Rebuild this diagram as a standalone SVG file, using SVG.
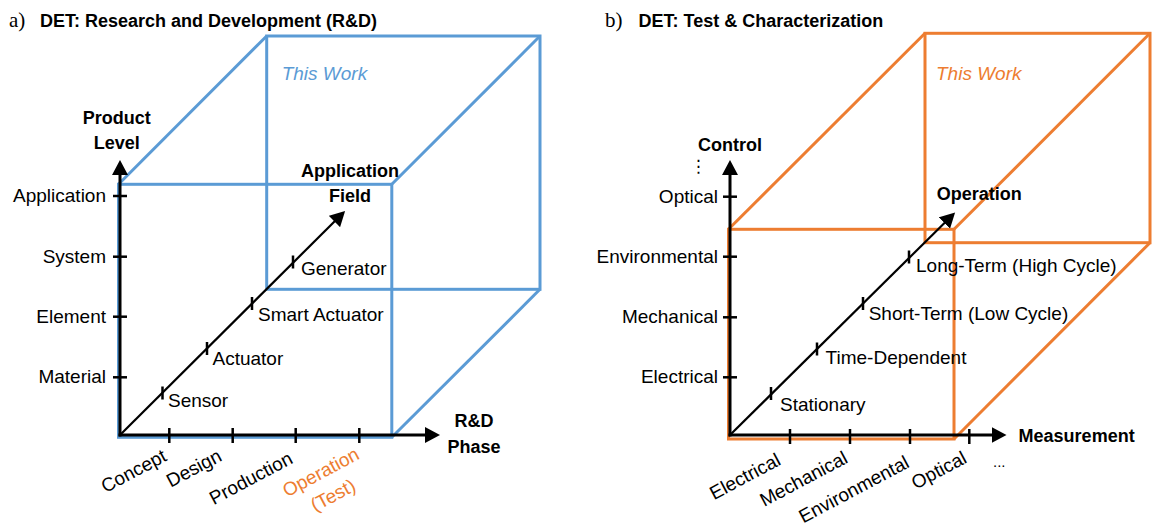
<svg xmlns="http://www.w3.org/2000/svg" width="1153" height="528" viewBox="0 0 1153 528">
<style>
  .lbl { font-family: "Liberation Sans", Arial, sans-serif; font-size: 19px; fill: #000; }
  .bold { font-family: "Liberation Sans", Arial, sans-serif; font-size: 18px; font-weight: bold; fill: #000; }
  .pl { font-family: "Liberation Serif", "Times New Roman", serif; font-size: 21px; fill: #000; }
  .blue { fill: none; stroke: #5B9BD5; stroke-width: 3; stroke-linejoin: miter; }
  .orange { fill: none; stroke: #ED7D31; stroke-width: 3; stroke-linejoin: miter; }
  .axis { stroke: #000; stroke-width: 3; fill: none; }
  .diag { stroke: #000; stroke-width: 2.2; fill: none; }
  .tick { stroke: #000; stroke-width: 2.5; }
  .work { font-family: "Liberation Sans", Arial, sans-serif; font-size: 19px; font-style: italic; }
</style>
<defs>
  <marker id="ah" markerUnits="userSpaceOnUse" markerWidth="16" markerHeight="16" refX="5" refY="8" orient="auto">
    <path d="M0,0 L15,8 L0,16 z" fill="#000"/>
  </marker>
</defs>

<!-- Panel titles -->
<g id="title-a">
  <text class="pl" x="9" y="27">a)</text>
  <text class="bold" x="40" y="27">DET: Research and Development (R&amp;D)</text>
</g>
<g id="title-b">
  <text class="pl" x="605" y="27">b)</text>
  <text class="bold" x="638.5" y="27">DET: Test &amp; Characterization</text>
</g>

<!-- Left cube (blue) -->
<g id="cube-a">
  <rect class="blue" x="266.7" y="36" width="273.3" height="253.3"/>
  <rect class="blue" x="118.5" y="184.3" width="273.3" height="253"/>
  <line class="blue" x1="118.5" y1="184.3" x2="266.7" y2="36"/>
  <line class="blue" x1="391.8" y1="184.3" x2="540" y2="36"/>
  <line class="blue" x1="391.8" y1="437.3" x2="540" y2="289.3"/>
  <text class="work" x="281.7" y="80" fill="#5B9BD5">This Work</text>
</g>

<!-- Right cube (orange) -->
<g id="cube-b">
  <rect class="orange" x="925" y="33.3" width="225" height="209.4"/>
  <rect class="orange" x="728.5" y="229.3" width="225.5" height="209.7"/>
  <line class="orange" x1="728.5" y1="229.3" x2="925" y2="33.3"/>
  <line class="orange" x1="954" y1="229.3" x2="1150" y2="33.3"/>
  <line class="orange" x1="954" y1="439" x2="1150" y2="242.7"/>
  <text class="work" x="936" y="80" fill="#ED7D31">This Work</text>
</g>

<!-- Connectors: axes and arrows -->
<g id="connectors">
  <line class="axis" x1="120" y1="436.5" x2="120" y2="170" marker-end="url(#ah)"/>
  <line class="axis" x1="118.5" y1="435" x2="430" y2="435" marker-end="url(#ah)"/>
  <line class="diag" x1="120" y1="435" x2="338" y2="218" marker-end="url(#ah)"/>
  <line class="axis" x1="730" y1="436.5" x2="730" y2="170" marker-end="url(#ah)"/>
  <line class="axis" x1="728.5" y1="435" x2="996.5" y2="435" marker-end="url(#ah)"/>
  <line class="diag" x1="730" y1="435" x2="948" y2="219.5" marker-end="url(#ah)"/>
</g>

<!-- Left panel: Product Level axis -->
<g id="axis-a-y">
  <text class="bold" x="116.7" y="124" text-anchor="middle">Product</text>
  <text class="bold" x="116.7" y="149.3" text-anchor="middle">Level</text>
  <line class="tick" x1="113" y1="196" x2="127" y2="196"/>
  <line class="tick" x1="113" y1="256.7" x2="127" y2="256.7"/>
  <line class="tick" x1="113" y1="316.7" x2="127" y2="316.7"/>
  <line class="tick" x1="113" y1="377.3" x2="127" y2="377.3"/>
  <text class="lbl" x="106" y="201.7" text-anchor="end">Application</text>
  <text class="lbl" x="106" y="262.5" text-anchor="end">System</text>
  <text class="lbl" x="106" y="322.7" text-anchor="end">Element</text>
  <text class="lbl" x="106" y="383.3" text-anchor="end">Material</text>
</g>

<!-- Left panel: Application Field axis -->
<g id="axis-a-z">
  <text class="bold" x="350" y="176.7" text-anchor="middle">Application</text>
  <text class="bold" x="350" y="201.7" text-anchor="middle">Field</text>
  <line class="tick" x1="162.5" y1="386.5" x2="162.5" y2="399.5"/>
  <line class="tick" x1="207" y1="342" x2="207" y2="355"/>
  <line class="tick" x1="252" y1="297" x2="252" y2="310"/>
  <line class="tick" x1="293" y1="255.5" x2="293" y2="268.5"/>
  <text class="lbl" x="168" y="406.7">Sensor</text>
  <text class="lbl" x="212.5" y="365">Actuator</text>
  <text class="lbl" x="258" y="321">Smart Actuator</text>
  <text class="lbl" x="301" y="275">Generator</text>
</g>

<!-- Left panel: R&D Phase axis -->
<g id="axis-a-x">
  <text class="bold" x="474" y="426.7" text-anchor="middle">R&amp;D</text>
  <text class="bold" x="474" y="452.7" text-anchor="middle">Phase</text>
  <line class="tick" x1="169.3" y1="428" x2="169.3" y2="443"/>
  <line class="tick" x1="232.7" y1="428" x2="232.7" y2="443"/>
  <line class="tick" x1="295.7" y1="428" x2="295.7" y2="443"/>
  <line class="tick" x1="359.3" y1="428" x2="359.3" y2="443"/>
  <text class="lbl" text-anchor="end" transform="translate(168,460) rotate(-28)">Concept</text>
  <text class="lbl" text-anchor="end" transform="translate(223,460) rotate(-28)">Design</text>
  <text class="lbl" text-anchor="end" transform="translate(294,462.5) rotate(-28)">Production</text>
  <g transform="translate(323.8,478) rotate(-28)">
    <text class="lbl" text-anchor="middle" x="0" y="0" style="fill:#ED7D31">Operation</text>
    <text class="lbl" text-anchor="middle" x="0" y="26" style="fill:#ED7D31">(Test)</text>
  </g>
</g>

<!-- Right panel: Control axis -->
<g id="axis-b-y">
  <text class="bold" x="730" y="151" text-anchor="middle">Control</text>
  <text x="698.3" y="172" text-anchor="middle" style="font-family:'DejaVu Sans',sans-serif;font-size:17px">⋮</text>
  <line class="tick" x1="723" y1="196.7" x2="737" y2="196.7"/>
  <line class="tick" x1="723" y1="256.7" x2="737" y2="256.7"/>
  <line class="tick" x1="723" y1="317.3" x2="737" y2="317.3"/>
  <line class="tick" x1="723" y1="377.3" x2="737" y2="377.3"/>
  <text class="lbl" x="718" y="202.5" text-anchor="end">Optical</text>
  <text class="lbl" x="718" y="262.5" text-anchor="end">Environmental</text>
  <text class="lbl" x="718" y="323" text-anchor="end">Mechanical</text>
  <text class="lbl" x="718" y="383" text-anchor="end">Electrical</text>
</g>

<!-- Right panel: Operation axis -->
<g id="axis-b-z">
  <text class="bold" x="936.7" y="200">Operation</text>
  <line class="tick" x1="771" y1="387" x2="771" y2="400"/>
  <line class="tick" x1="817" y1="342.5" x2="817" y2="355.5"/>
  <line class="tick" x1="863" y1="297" x2="863" y2="310"/>
  <line class="tick" x1="909" y1="250.5" x2="909" y2="263.5"/>
  <text class="lbl" x="780" y="410.7">Stationary</text>
  <text class="lbl" x="825.6" y="364">Time-Dependent</text>
  <text class="lbl" x="868.7" y="320">Short-Term (Low Cycle)</text>
  <text class="lbl" x="916" y="271.7">Long-Term (High Cycle)</text>
</g>

<!-- Right panel: Measurement axis -->
<g id="axis-b-x">
  <text class="bold" x="1018.6" y="441.7">Measurement</text>
  <line class="tick" x1="790" y1="429" x2="790" y2="444"/>
  <line class="tick" x1="850" y1="429" x2="850" y2="444"/>
  <line class="tick" x1="910" y1="429" x2="910" y2="444"/>
  <line class="tick" x1="969.3" y1="429" x2="969.3" y2="444"/>
  <text class="lbl" text-anchor="end" transform="translate(782,464) rotate(-28)">Electrical</text>
  <text class="lbl" text-anchor="end" transform="translate(849,462) rotate(-28)">Mechanical</text>
  <text class="lbl" text-anchor="end" transform="translate(910.5,466.5) rotate(-28)">Environmental</text>
  <text class="lbl" text-anchor="end" transform="translate(968,462) rotate(-28)">Optical</text>
  <text class="lbl" x="993" y="467" style="font-size:15px">...</text>
</g>
</svg>
